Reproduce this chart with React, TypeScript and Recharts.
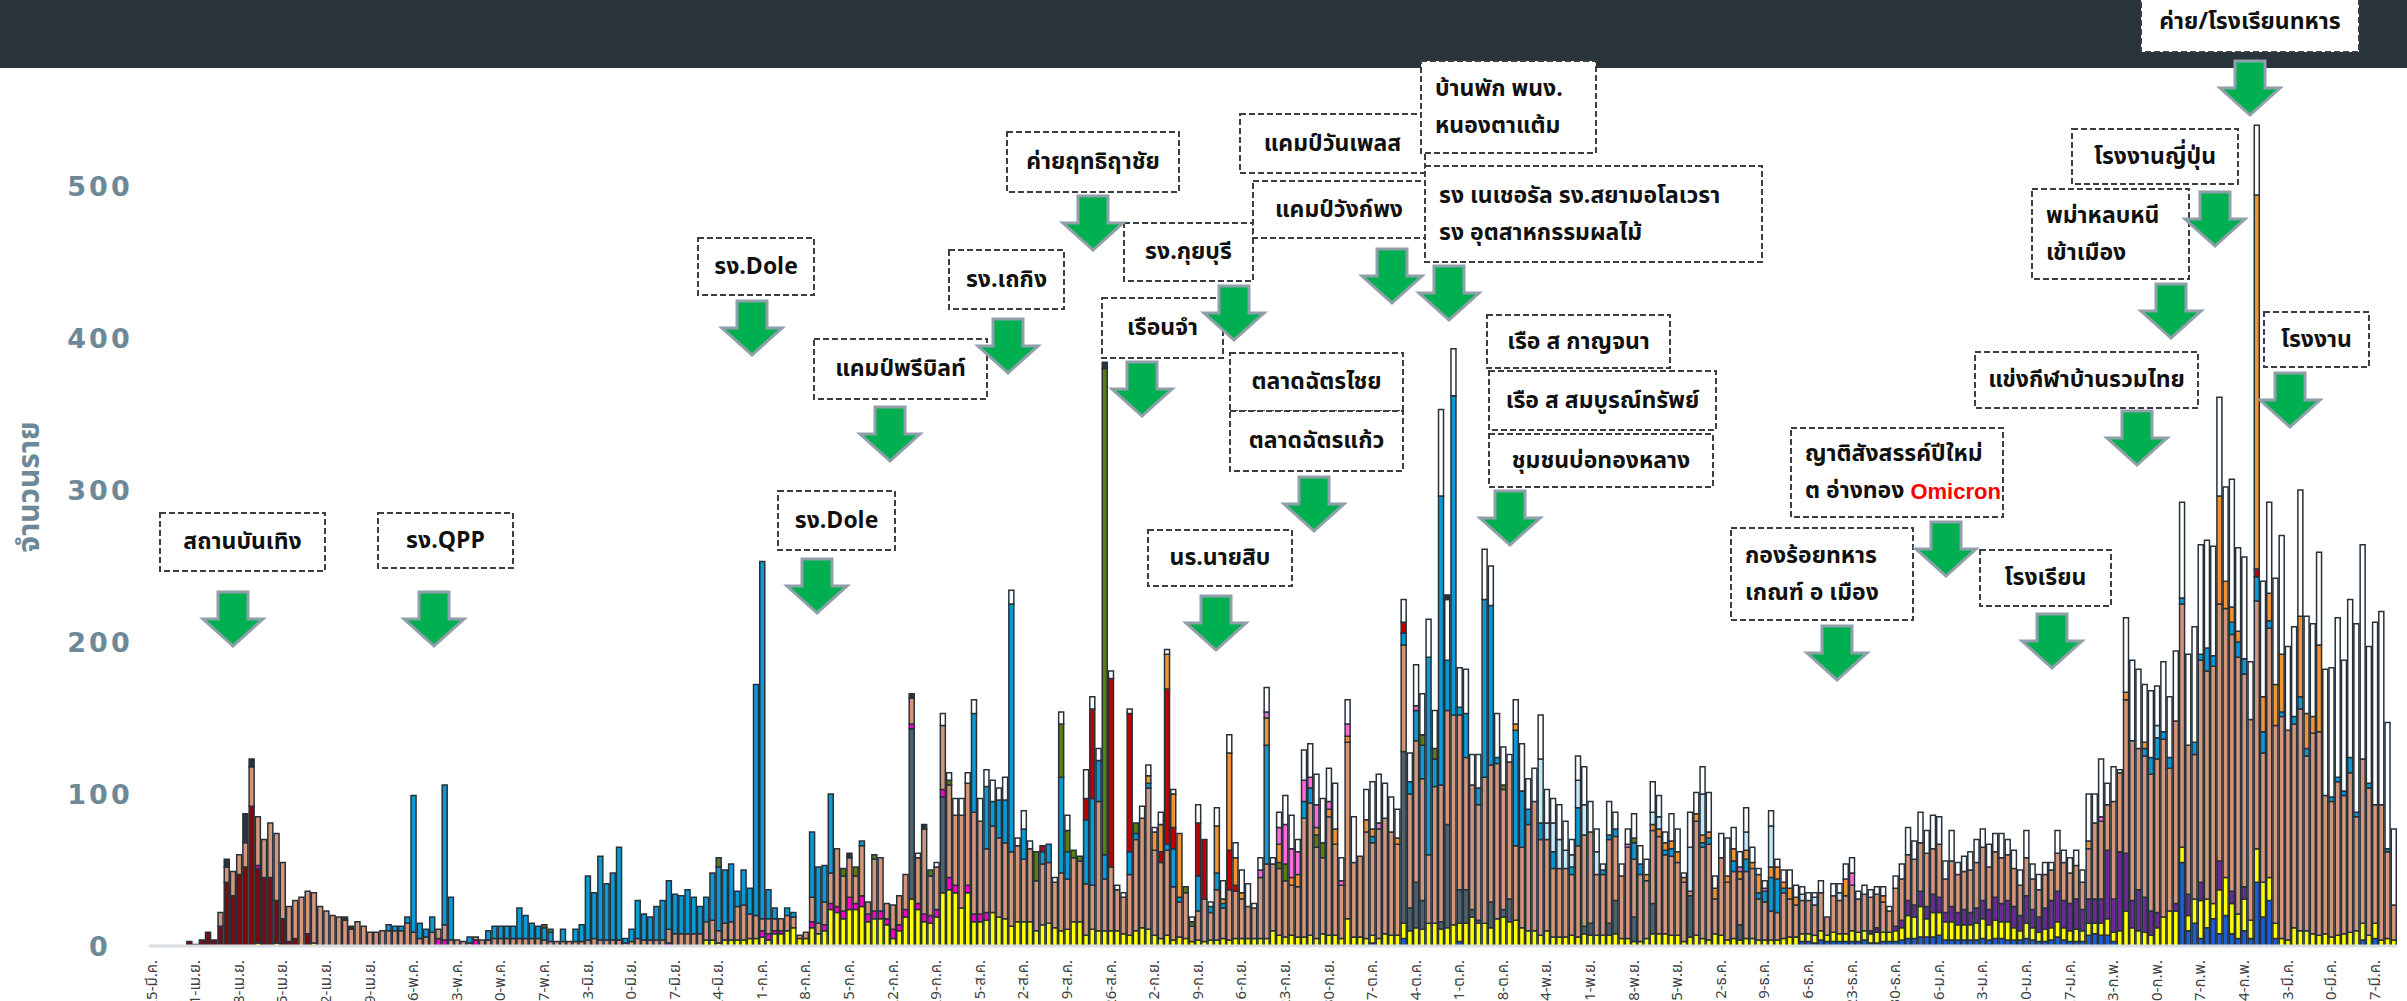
import { BarChart, Bar, XAxis, YAxis } from 'recharts';

// weekly tick labels, one every 7 days from 25 มี.ค.
const weekLabels = [
  '25-มี.ค.', '1-เม.ย.', '8-เม.ย.', '15-เม.ย.', '22-เม.ย.', '29-เม.ย.', '6-พ.ค.', '13-พ.ค.', '20-พ.ค.', '27-พ.ค.',
  '3-มิ.ย.', '10-มิ.ย.', '17-มิ.ย.', '24-มิ.ย.', '1-ก.ค.', '8-ก.ค.', '15-ก.ค.', '22-ก.ค.', '29-ก.ค.', '5-ส.ค.',
  '12-ส.ค.', '19-ส.ค.', '26-ส.ค.', '2-ก.ย.', '9-ก.ย.', '16-ก.ย.', '23-ก.ย.', '30-ก.ย.', '7-ต.ค.', '14-ต.ค.',
  '21-ต.ค.', '28-ต.ค.', '4-พ.ย.', '11-พ.ย.', '18-พ.ย.', '25-พ.ย.', '2-ธ.ค.', '9-ธ.ค.', '16-ธ.ค.', '23-ธ.ค.',
  '30-ธ.ค.', '6-ม.ค.', '13-ม.ค.', '20-ม.ค.', '27-ม.ค.', '3-ก.พ.', '10-ก.พ.', '17-ก.พ.', '24-ก.พ.', '3-มี.ค.',
  '10-มี.ค.', '17-มี.ค.',
];

const yTicks = [0, 100, 200, 300, 400, 500];

// daily values, 10 per line (line comment = first day index)
const salmon = [
  /*0*/ 0, 0, 0, 0, 0, 0, 0, 0, 0, 0,
  /*10*/ 0, 9, 10, 16, 13, 16, 26, 32, 25, 36,
  /*20*/ 44, 37, 23, 25, 32, 28, 33, 26, 23, 20,
  /*30*/ 19, 17, 11, 16, 13, 9, 9, 10, 10, 10,
  /*40*/ 10, 15, 9, 5, 6, 9, 6, 10, 4, 4,
  /*50*/ 3, 2, 2, 4, 4, 5, 5, 5, 5, 5,
  /*60*/ 5, 5, 5, 4, 3, 3, 3, 3, 3, 3,
  /*70*/ 4, 5, 4, 4, 4, 4, 2, 3, 5, 4,
  /*80*/ 4, 4, 4, 9, 8, 8, 8, 8, 8, 12,
  /*90*/ 13, 8, 11, 12, 22, 23, 16, 15, 8, 10,
  /*100*/ 8, 8, 10, 7, 2, 4, 16, 7, 15, 20,
  /*110*/ 38, 23, 26, 18, 33, 8, 34, 35, 10, 16,
  /*120*/ 19, 23, 17, 30, 56, 26, 28, 42, 61, 46,
  /*130*/ 61, 67, 67, 61, 42, 57, 52, 50, 49, 50,
  /*140*/ 41, 48, 33, 40, 40, 30, 38, 33, 42, 40,
  /*150*/ 34, 29, 85, 34, 42, 27, 24, 40, 60, 72,
  /*160*/ 93, 56, 50, 56, 35, 23, 30, 10, 19, 28,
  /*170*/ 18, 33, 20, 33, 31, 26, 21, 20, 40, 49,
  /*180*/ 44, 44, 37, 33, 33, 78, 87, 60, 50, 78,
  /*190*/ 60, 35, 116, 49, 53, 70, 61, 72, 76, 68,
  /*200*/ 60, 70, 75, 93, 80, 45, 90, 90, 75, 138,
  /*210*/ 115, 87, 82, 76, 96, 90, 102, 79, 90, 49,
  /*220*/ 53, 70, 85, 63, 60, 45, 45, 45, 40, 60,
  /*230*/ 60, 60, 40, 40, 55, 42, 41, 60, 38, 44,
  /*240*/ 38, 48, 64, 52, 52, 48, 39, 3, 75, 60,
  /*250*/ 63, 23, 51, 38, 44, 30, 44, 46, 27, 25,
  /*260*/ 19, 18, 30, 25, 21, 22, 22, 20, 25, 12,
  /*270*/ 24, 22, 25, 30, 22, 24, 22, 22, 20, 14,
  /*280*/ 25, 27, 30, 30, 32, 35, 30, 35, 22, 30,
  /*290*/ 25, 25, 28, 30, 35, 28, 30, 30, 30, 25,
  /*300*/ 20, 25, 20, 18, 22, 20, 25, 25, 20, 22,
  /*310*/ 18, 33, 50, 51, 30, 64, 52, 101, 105, 93,
  /*320*/ 93, 90, 101, 117, 94, 120, 160, 98, 95, 146,
  /*330*/ 150, 156, 169, 177, 169, 169, 140, 132, 163, 85,
  /*340*/ 164, 130, 146, 138, 134, 146, 115, 132, 134, 91,
  /*350*/ 89, 101, 91, 105, 75, 108, 97, 78, 89, 57,
  /*360*/ 23,
];

const yellow = [
  /*0*/ 0, 0, 0, 0, 0, 0, 0, 0, 0, 0,
  /*10*/ 0, 0, 0, 0, 0, 0, 0, 2, 0, 0,
  /*20*/ 2, 0, 0, 0, 0, 0, 2, 0, 0, 0,
  /*30*/ 0, 0, 0, 0, 0, 0, 0, 0, 0, 0,
  /*40*/ 0, 0, 0, 0, 0, 0, 0, 0, 0, 0,
  /*50*/ 0, 0, 0, 0, 0, 0, 0, 0, 0, 0,
  /*60*/ 0, 0, 0, 0, 0, 0, 0, 0, 0, 0,
  /*70*/ 0, 0, 0, 0, 0, 0, 0, 0, 0, 0,
  /*80*/ 0, 0, 0, 0, 0, 0, 0, 0, 0, 4,
  /*90*/ 4, 2, 4, 4, 4, 4, 5, 5, 6, 4,
  /*100*/ 8, 8, 10, 12, 5, 5, 12, 8, 10, 24,
  /*110*/ 22, 18, 24, 24, 26, 16, 18, 18, 14, 5,
  /*120*/ 10, 19, 31, 24, 16, 15, 19, 35, 37, 35,
  /*130*/ 25, 35, 16, 16, 17, 22, 19, 18, 13, 16,
  /*140*/ 16, 16, 10, 14, 15, 12, 10, 11, 16, 16,
  /*150*/ 7, 11, 10, 10, 10, 10, 8, 7, 10, 12,
  /*160*/ 11, 7, 5, 7, 4, 6, 5, 3, 4, 3,
  /*170*/ 4, 4, 5, 4, 5, 5, 5, 5, 5, 5,
  /*180*/ 10, 7, 6, 7, 6, 6, 7, 5, 8, 7,
  /*190*/ 7, 5, 18, 6, 6, 5, 5, 5, 8, 7,
  /*200*/ 7, 10, 10, 12, 11, 15, 15, 11, 12, 14,
  /*210*/ 12, 15, 19, 15, 15, 12, 18, 19, 16, 17,
  /*220*/ 12, 10, 10, 7, 10, 6, 6, 6, 7, 6,
  /*230*/ 8, 7, 7, 7, 7, 8, 5, 5, 3, 3,
  /*240*/ 5, 8, 8, 8, 7, 7, 3, 6, 7, 5,
  /*250*/ 4, 8, 7, 4, 5, 4, 5, 5, 4, 4,
  /*260*/ 4, 4, 5, 6, 6, 5, 5, 5, 6, 4,
  /*270*/ 6, 5, 5, 7, 6, 6, 6, 7, 6, 6,
  /*280*/ 7, 8, 15, 14, 20, 12, 16, 15, 12, 12,
  /*290*/ 10, 10, 10, 11, 13, 10, 12, 11, 12, 8,
  /*300*/ 6, 10, 8, 6, 8, 8, 10, 8, 7, 8,
  /*310*/ 7, 8, 7, 8, 11, 6, 10, 23, 12, 10,
  /*320*/ 9, 7, 12, 19, 23, 23, 10, 10, 16, 25,
  /*330*/ 19, 10, 29, 25, 20, 16, 21, 12, 22, 23,
  /*340*/ 15, 10, 5, 4, 12, 10, 10, 8, 7, 8,
  /*350*/ 6, 7, 8, 9, 10, 11, 7, 10, 4, 5,
  /*360*/ 4,
];

const white = [
  /*0*/ 0, 0, 0, 0, 0, 0, 0, 0, 0, 0,
  /*10*/ 0, 0, 0, 0, 0, 0, 0, 0, 0, 0,
  /*20*/ 0, 0, 0, 0, 0, 0, 0, 0, 0, 0,
  /*30*/ 0, 0, 0, 0, 0, 0, 0, 0, 0, 0,
  /*40*/ 0, 0, 0, 0, 0, 0, 0, 0, 0, 0,
  /*50*/ 0, 0, 0, 0, 0, 0, 0, 0, 0, 0,
  /*60*/ 0, 0, 0, 0, 0, 0, 0, 0, 0, 0,
  /*70*/ 0, 0, 0, 0, 0, 0, 0, 0, 0, 0,
  /*80*/ 0, 0, 0, 0, 0, 0, 0, 0, 0, 0,
  /*90*/ 0, 0, 0, 0, 0, 0, 0, 0, 0, 0,
  /*100*/ 0, 0, 0, 0, 0, 0, 0, 0, 0, 0,
  /*110*/ 0, 0, 0, 0, 0, 0, 0, 0, 0, 0,
  /*120*/ 0, 0, 0, 3, 0, 0, 3, 8, 5, 11,
  /*130*/ 11, 7, 9, 15, 11, 14, 8, 15, 9, 5,
  /*140*/ 12, 5, 0, 0, 0, 3, 8, 10, 0, 0,
  /*150*/ 19, 8, 8, 0, 5, 3, 3, 3, 0, 8,
  /*160*/ 7, 3, 8, 3, 3, 0, 0, 3, 12, 0,
  /*170*/ 3, 12, 12, 12, 10, 15, 15, 3, 8, 16,
  /*180*/ 4, 10, 19, 22, 8, 20, 22, 20, 29, 22,
  /*190*/ 30, 15, 16, 30, 0, 20, 31, 32, 23, 23,
  /*200*/ 19, 15, 19, 27, 27, 25, 25, 57, 40, 31,
  /*210*/ 26, 29, 20, 22, 33, 26, 29, 25, 5, 16,
  /*220*/ 31, 20, 22, 29, 22, 16, 23, 19, 10, 16,
  /*230*/ 25, 20, 15, 4, 22, 11, 8, 10, 16, 12,
  /*240*/ 10, 20, 14, 7, 18, 15, 3, 23, 14, 18,
  /*250*/ 26, 8, 16, 25, 14, 10, 16, 10, 4, 5,
  /*260*/ 10, 5, 8, 12, 8, 5, 5, 3, 8, 0,
  /*270*/ 8, 6, 10, 10, 5, 6, 5, 5, 6, 3,
  /*280*/ 8, 10, 18, 12, 20, 15, 22, 18, 12, 20,
  /*290*/ 8, 10, 12, 15, 12, 15, 12, 16, 10, 12,
  /*300*/ 10, 18, 10, 10, 8, 5, 15, 8, 10, 10,
  /*310*/ 8, 31, 19, 38, 14, 23, 2, 49, 53, 52,
  /*320*/ 38, 44, 26, 46, 40, 46, 63, 60, 76, 72,
  /*330*/ 71, 72, 65, 62, 84, 55, 67, 38, 46, 76,
  /*340*/ 60, 70, 78, 55, 59, 83, 64, 61, 61, 83,
  /*350*/ 85, 105, 86, 104, 124, 141, 90, 120, 127, 83,
  /*360*/ 50,
];

const cyan = [
  /*0*/ 0, 0, 0, 0, 0, 0, 0, 0, 0, 0,
  /*10*/ 0, 0, 0, 0, 0, 0, 0, 0, 0, 0,
  /*20*/ 0, 0, 0, 0, 0, 0, 0, 0, 0, 0,
  /*30*/ 0, 0, 0, 0, 0, 0, 0, 0, 4, 3,
  /*40*/ 3, 4, 90, 10, 5, 10, 0, 92, 28, 0,
  /*50*/ 0, 4, 0, 0, 6, 8, 8, 8, 8, 20,
  /*60*/ 15, 10, 8, 8, 6, 0, 8, 0, 8, 11,
  /*70*/ 42, 30, 55, 37, 44, 61, 3, 8, 25, 17,
  /*80*/ 15, 22, 26, 32, 26, 25, 29, 24, 18, 16,
  /*90*/ 31, 42, 35, 38, 10, 23, 17, 152, 235, 19,
  /*100*/ 7, 0, 5, 3, 0, 0, 43, 37, 24, 52,
  /*110*/ 0, 0, 0, 0, 3, 0, 0, 0, 0, 0,
  /*120*/ 0, 0, 0, 0, 0, 0, 0, 0, 0, 0,
  /*130*/ 0, 0, 65, 0, 41, 16, 25, 28, 163, 0,
  /*140*/ 20, 0, 0, 8, 12, 0, 63, 18, 0, 0,
  /*150*/ 42, 57, 27, 16, 0, 0, 0, 15, 4, 0,
  /*160*/ 3, 0, 0, 4, 25, 3, 0, 0, 23, 0,
  /*170*/ 4, 11, 3, 0, 0, 0, 0, 0, 0, 78,
  /*180*/ 0, 0, 0, 0, 0, 11, 10, 0, 0, 0,
  /*190*/ 0, 0, 0, 0, 0, 0, 4, 0, 0, 0,
  /*200*/ 0, 8, 8, 20, 22, 130, 18, 190, 33, 210,
  /*210*/ 5, 29, 0, 11, 117, 105, 4, 0, 0, 76,
  /*220*/ 37, 10, 0, 11, 0, 11, 0, 0, 5, 25,
  /*230*/ 0, 0, 0, 3, 3, 5, 0, 0, 11, 7,
  /*240*/ 0, 0, 0, 3, 5, 0, 0, 0, 0, 3,
  /*250*/ 4, 0, 0, 0, 7, 0, 8, 0, 4, 7,
  /*260*/ 22, 22, 3, 0, 0, 0, 0, 0, 0, 0,
  /*270*/ 0, 0, 0, 0, 0, 0, 0, 0, 0, 0,
  /*280*/ 0, 0, 0, 0, 0, 0, 0, 0, 0, 0,
  /*290*/ 0, 0, 0, 0, 0, 0, 0, 0, 0, 0,
  /*300*/ 0, 0, 0, 0, 0, 0, 0, 0, 0, 0,
  /*310*/ 0, 0, 0, 0, 0, 0, 0, 0, 0, 0,
  /*320*/ 5, 11, 14, 5, 7, 0, 4, 0, 8, 4,
  /*330*/ 15, 7, 0, 0, 8, 10, 10, 0, 16, 14,
  /*340*/ 5, 0, 3, 0, 5, 8, 5, 0, 0, 0,
  /*350*/ 3, 3, 3, 10, 3, 0, 3, 0, 0, 2,
  /*360*/ 0,
];

// sparse series: [day index, value]
const maroon = [[6, 3], [7, 1], [8, 4], [9, 9], [10, 4], [11, 13], [12, 42], [13, 33], [14, 47], [15, 52], [16, 92], [17, 49], [18, 45], [19, 45], [20, 28], [21, 18], [22, 3], [23, 5], [25, 8]];
const darkCap = [[12, 5], [15, 19], [16, 5], [31, 2], [32, 2], [112, 3], [122, 3], [124, 3], [153, 4], [208, 3]];
const magenta = [[17, 2], [46, 5], [47, 4], [52, 4], [83, 2], [98, 4], [99, 4], [100, 2], [101, 2], [106, 4], [108, 4], [109, 4], [110, 4], [111, 5], [112, 8], [113, 4], [114, 7], [115, 5], [116, 5], [117, 5], [118, 4], [119, 6], [120, 4], [121, 5], [122, 3], [123, 4], [124, 5], [125, 5], [126, 5], [127, 5], [128, 8], [129, 5], [131, 5], [132, 5], [133, 5], [134, 5]];
const olive = [[63, 2], [64, 2], [91, 6], [111, 5], [113, 6], [116, 3], [125, 4], [128, 3], [142, 19], [146, 35], [147, 14], [148, 5], [149, 3], [153, 320], [158, 7], [166, 4], [167, 3], [181, 4], [182, 11], [187, 8], [188, 10], [204, 7], [206, 7], [217, 3], [238, 3]];
const slate = [[122, 112], [127, 63], [201, 113], [202, 15], [203, 30], [204, 19], [207, 5], [208, 68], [210, 22], [211, 22], [212, 5], [213, 2], [215, 17], [217, 5], [218, 15], [230, 5], [231, 8], [234, 8], [235, 22], [238, 16], [241, 20], [247, 27], [255, 10]];
const red = [[143, 4], [150, 14], [151, 59], [154, 124], [157, 91], [162, 7], [163, 102], [164, 14], [168, 35], [169, 39], [173, 26], [174, 4], [201, 7], [338, 5]];
const orange = [[160, 5], [161, 12], [162, 18], [163, 23], [164, 22], [165, 42], [171, 31], [172, 3], [173, 64], [174, 18], [175, 4], [179, 18], [181, 12], [183, 5], [184, 8], [187, 5], [189, 5], [190, 10], [192, 4], [195, 8], [196, 5], [200, 4], [219, 4], [240, 4], [241, 4], [242, 5], [243, 5], [244, 5], [245, 7], [246, 3], [248, 5], [249, 5], [250, 4], [251, 7], [253, 4], [254, 8], [255, 5], [256, 6], [257, 4], [258, 12], [260, 7], [261, 8], [262, 4], [263, 7], [264, 5], [272, 11], [278, 4], [311, 5], [317, 5], [320, 4], [332, 71], [333, 18], [334, 10], [335, 7], [338, 246], [339, 23], [340, 18], [341, 27], [342, 38], [345, 53], [346, 23], [347, 11], [348, 57]];
const pink = [[178, 5], [179, 4], [181, 11], [182, 26], [183, 19], [184, 15], [185, 14], [186, 7], [187, 15], [189, 5], [191, 3], [192, 8], [197, 4], [203, 3], [237, 2], [255, 3], [259, 2], [273, 8], [313, 3]];
const lightBlue = [[223, 42], [224, 11], [225, 19], [226, 19], [227, 12], [228, 8], [229, 18], [230, 20], [232, 15], [241, 8], [242, 8], [247, 29], [249, 27], [256, 12], [260, 27], [265, 4], [267, 5], [271, 5], [322, 8]];
const blue = [[196, 2], [201, 5], [210, 3], [265, 3], [266, 3], [267, 2], [268, 4], [269, 3], [270, 3], [271, 3], [272, 3], [273, 3], [274, 3], [275, 4], [276, 2], [277, 2], [278, 3], [279, 3], [280, 3], [281, 4], [282, 5], [283, 5], [284, 6], [285, 6], [286, 6], [287, 7], [288, 4], [289, 4], [290, 4], [291, 4], [292, 4], [293, 4], [294, 5], [295, 4], [296, 5], [297, 5], [298, 4], [299, 4], [300, 4], [301, 5], [302, 4], [303, 3], [304, 3], [305, 4], [306, 6], [307, 4], [308, 3], [309, 3], [310, 3], [311, 7], [312, 8], [313, 7], [314, 7], [315, 3], [326, 55], [327, 10], [328, 15], [329, 5], [330, 12], [331, 18], [332, 8], [333, 20], [334, 8], [335, 5], [336, 10], [337, 5], [338, 42], [339, 19], [340, 30], [341, 5], [355, 4], [357, 5]];
const purple = [[276, 2], [277, 3], [280, 3], [281, 5], [282, 10], [283, 8], [284, 10], [285, 8], [286, 12], [287, 10], [288, 6], [289, 10], [290, 8], [291, 10], [292, 8], [293, 10], [294, 12], [295, 10], [296, 15], [297, 12], [298, 14], [299, 14], [300, 10], [301, 18], [302, 12], [303, 10], [304, 14], [305, 18], [306, 20], [307, 18], [308, 18], [309, 20], [310, 14], [311, 16], [312, 16], [313, 16], [314, 45], [315, 22], [316, 52], [317, 38], [318, 18], [319, 27], [320, 23], [321, 16], [322, 10], [325, 5], [327, 14], [329, 12], [332, 19], [334, 8], [336, 8]];

const days = salmon.map((_, i) => i);

const expand = (pairs: number[][]) => {
  const out = days.map(() => 0);
  pairs.forEach(([d, v]) => {
    out[d] = v;
  });
  return out;
};

// bottom to top stacking order
const series = [
  { key: 'blue', color: '#1d5fd3', values: expand(blue) },
  { key: 'yellow', color: '#ffff00', values: yellow },
  { key: 'slate', color: '#4f626b', values: expand(slate) },
  { key: 'maroon', color: '#7a0b10', values: expand(maroon) },
  { key: 'magenta', color: '#ff00c4', values: expand(magenta) },
  { key: 'purple', color: '#6a2b92', values: expand(purple) },
  { key: 'salmon', color: '#d4967a', values: salmon },
  { key: 'cyan', color: '#0a9bd7', values: cyan },
  { key: 'red', color: '#c00000', values: expand(red) },
  { key: 'olive', color: '#5b7c13', values: expand(olive) },
  { key: 'orange', color: '#f39333', values: expand(orange) },
  { key: 'pink', color: '#ff6cd8', values: expand(pink) },
  { key: 'lightBlue', color: '#c8e8f7', values: expand(lightBlue) },
  { key: 'white', color: '#ffffff', values: white },
  { key: 'dark', color: '#2a333b', values: expand(darkCap) },
];

const rows = days.map((d) => {
  const row: Record<string, number> = { day: d };
  series.forEach((s) => {
    row[s.key] = s.values[d];
  });
  return row;
});

const annotations = [
  { x: 160, y: 513, w: 165, h: 58, lines: ['สถานบันเทิง'] },
  { x: 378, y: 513, w: 135, h: 55, lines: ['รง.QPP'] },
  { x: 698, y: 238, w: 116, h: 57, lines: ['รง.Dole'] },
  { x: 814, y: 339, w: 173, h: 60, lines: ['แคมป์พรีบิลท์'] },
  { x: 778, y: 491, w: 117, h: 59, lines: ['รง.Dole'] },
  { x: 949, y: 250, w: 115, h: 59, lines: ['รง.เถกิง'] },
  { x: 1007, y: 132, w: 172, h: 60, lines: ['ค่ายฤทธิฤาชัย'] },
  { x: 1124, y: 223, w: 129, h: 58, lines: ['รง.กุยบุรี'] },
  { x: 1102, y: 298, w: 121, h: 60, lines: ['เรือนจำ'] },
  { x: 1240, y: 114, w: 185, h: 59, lines: ['แคมป์วันเพลส'] },
  { x: 1253, y: 181, w: 172, h: 57, lines: ['แคมป์วังก์พง'] },
  { x: 1421, y: 61, w: 175, h: 92, lines: ['บ้านพัก พนง.', 'หนองตาแต้ม'] },
  { x: 1425, y: 166, w: 337, h: 96, lines: ['รง เนเชอรัล รง.สยามอโลเวรา', 'รง อุตสาหกรรมผลไม้'] },
  { x: 1487, y: 315, w: 183, h: 53, lines: ['เรือ ส กาญจนา'] },
  { x: 1489, y: 371, w: 227, h: 59, lines: ['เรือ ส สมบูรณ์ทรัพย์'] },
  { x: 1489, y: 434, w: 224, h: 53, lines: ['ชุมชนบ่อทองหลาง'] },
  { x: 1230, y: 353, w: 173, h: 58, lines: ['ตลาดฉัตรไชย'] },
  { x: 1230, y: 411, w: 173, h: 60, lines: ['ตลาดฉัตรแก้ว'] },
  { x: 1148, y: 530, w: 144, h: 56, lines: ['นร.นายสิบ'] },
  { x: 2141, y: -8, w: 218, h: 60, lines: ['ค่าย/โรงเรียนทหาร'] },
  { x: 2072, y: 129, w: 166, h: 55, lines: ['โรงงานญี่ปุ่น'] },
  { x: 2032, y: 189, w: 157, h: 90, lines: ['พม่าหลบหนี', 'เข้าเมือง'] },
  { x: 1975, y: 352, w: 223, h: 56, lines: ['แข่งกีฬาบ้านรวมไทย'] },
  { x: 2264, y: 312, w: 105, h: 55, lines: ['โรงงาน'] },
  { x: 1791, y: 428, w: 212, h: 89, lines: ['ญาติสังสรรค์ปีใหม่', 'ต อ่างทอง |Omicron'] },
  { x: 1731, y: 528, w: 182, h: 92, lines: ['กองร้อยทหาร', 'เกณฑ์ อ เมือง'] },
  { x: 1980, y: 550, w: 131, h: 56, lines: ['โรงเรียน'] },
];

const arrows = [
  [233, 592], [434, 592], [752, 301], [890, 407], [817, 559], [1008, 319], [1093, 196],
  [1234, 286], [1142, 362], [1392, 249], [1449, 266], [1510, 491], [1314, 477], [1216, 596],
  [2250, 61], [2215, 192], [2171, 284], [2137, 411], [2290, 373], [1946, 522], [1837, 626],
  [2052, 614],
];

const thaiFont = "'Noto Sans Thai', 'Noto Sans', 'DejaVu Sans', sans-serif";

const XTick = (props: any) => {
  const { x, payload } = props;
  const label = weekLabels[Math.round(payload.value / 7)];
  const top = 960;
  return (
    <text
      x={x}
      y={top}
      transform={`rotate(-90 ${x} ${top})`}
      textAnchor="end"
      dominantBaseline="central"
      fontSize={15}
      fill="#404040"
      fontFamily={thaiFont}
    >
      {label}
    </text>
  );
};

const YTick = (props: any) => {
  const { y, payload } = props;
  return (
    <text
      x={100}
      y={y}
      textAnchor="middle"
      dominantBaseline="central"
      fontSize={27}
      fontWeight="bold"
      letterSpacing={3}
      fill="#6d8898"
      fontFamily="'DejaVu Sans', sans-serif"
    >
      {payload.value}
    </text>
  );
};

const Arrow = ({ cx, top }: { cx: number; top: number }) => {
  const pts = [
    [cx - 15, top], [cx + 15, top], [cx + 15, top + 27], [cx + 30, top + 27],
    [cx, top + 54], [cx - 30, top + 27], [cx - 15, top + 27],
  ].map((p) => p.join(',')).join(' ');
  return <polygon points={pts} fill="#00b050" stroke="#8fa0aa" strokeWidth={3} strokeLinejoin="miter" />;
};

const Box = ({ a }: { a: (typeof annotations)[number] }) => {
  const multi = a.lines.length > 1;
  const lineGap = 37;
  const firstY = a.y + a.h / 2 - ((a.lines.length - 1) * lineGap) / 2;
  return (
    <g>
      <rect x={a.x} y={a.y} width={a.w} height={a.h} fill="#ffffff" stroke="#3a3f45" strokeWidth={2} strokeDasharray="6 3" />
      {a.lines.map((ln, k) => {
        const [plain, red] = ln.split('|');
        return (
          <text
            key={k}
            x={multi ? a.x + 14 : a.x + a.w / 2}
            y={firstY + k * lineGap}
            textAnchor={multi ? 'start' : 'middle'}
            dominantBaseline="central"
            fontSize={23}
            fontWeight="bold"
            fill="#111"
            fontFamily={thaiFont}
          >
            {plain}
            {red ? (
              <tspan fill="#ff0000" fontSize={22} fontFamily="'Liberation Sans', Arial, sans-serif">{red}</tspan>
            ) : null}
          </text>
        );
      })}
    </g>
  );
};

export default function App() {
  return (
    <div style={{ position: 'absolute', left: 0, top: 0, width: 2407, height: 1001, overflow: 'hidden', background: '#ffffff' }}>
      <div style={{ position: 'absolute', left: 0, top: 0, width: 2407, height: 68, background: '#28333a' }} />
      <div style={{ position: 'absolute', left: 0, top: 0 }}>
        <BarChart
          width={2407}
          height={1001}
          data={rows}
          margin={{ top: 34, right: 10, bottom: 0, left: 0 }}
          barCategoryGap={0.5}
        >
          <XAxis
            dataKey="day"
            interval={6}
            height={55}
            tickLine={false}
            axisLine={{ stroke: '#d9e0e4', strokeWidth: 3 }}
            tick={<XTick />}
          />
          <YAxis
            type="number"
            domain={[0, 600]}
            ticks={yTicks}
            width={149}
            axisLine={false}
            tickLine={false}
            tick={<YTick />}
          />
          {series.map((s) => (
            <Bar
              key={s.key}
              dataKey={s.key}
              stackId="cases"
              fill={s.color}
              stroke="#27313a"
              strokeWidth={1.5}
              isAnimationActive={false}
            />
          ))}
        </BarChart>
      </div>
      <svg width={2407} height={1001} style={{ position: 'absolute', left: 0, top: 0 }}>
        <text
          x={30}
          y={487}
          transform="rotate(-90 30 487)"
          textAnchor="middle"
          dominantBaseline="central"
          fontSize={30}
          fontWeight="bold"
          fill="#6d8898"
          fontFamily={thaiFont}
        >
          จำนวนราย
        </text>
        {annotations.map((a, i) => (
          <Box key={i} a={a} />
        ))}
        {arrows.map(([cx, top], i) => (
          <Arrow key={i} cx={cx} top={top} />
        ))}
      </svg>
    </div>
  );
}
